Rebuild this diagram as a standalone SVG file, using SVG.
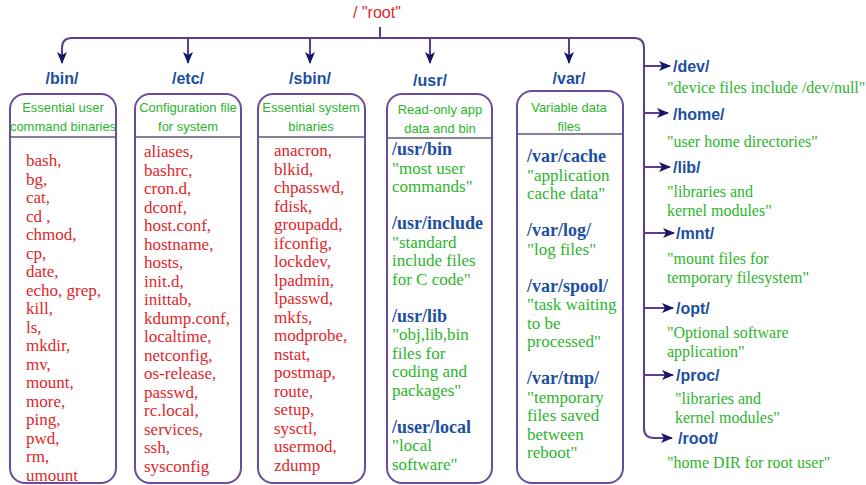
<svg xmlns="http://www.w3.org/2000/svg" width="866" height="485" viewBox="0 0 866 485">
<defs>
<marker id="ah" markerUnits="userSpaceOnUse" markerWidth="12" markerHeight="12" viewBox="0 0 12 10" refX="11" refY="5" orient="auto">
<path d="M0,0 L12,5 L0,10 L3,5 z" fill="#16166a"/>
</marker>
<style>
.ln{fill:none;stroke:#5a3d8e;stroke-width:2}
.box{fill:#fff;stroke:#6a4b9e;stroke-width:2}
.sep{stroke:#5f5878;stroke-width:1.6}
.lbl{font-family:"Liberation Sans",Arial,sans-serif;font-size:16px;font-weight:bold;fill:#1d4f9f}
.hd{font-family:"Liberation Sans",Arial,sans-serif;font-size:13px;fill:#2cb52c;text-anchor:middle}
.red{font-family:"Liberation Serif","Times New Roman",serif;font-size:17px;fill:#e0262a}
.bl{font-family:"Liberation Serif","Times New Roman",serif;font-size:18px;font-weight:bold;fill:#1d4f9f}
.gr{font-family:"Liberation Serif","Times New Roman",serif;font-size:17px;fill:#2cb52c}
.gs{font-family:"Liberation Serif","Times New Roman",serif;font-size:16px;fill:#2cb52c}
</style>
</defs>
<rect width="866" height="485" fill="#fff"/>
<g id="root"><text x="353" y="18" font-family="Liberation Sans,Arial,sans-serif" font-size="16" fill="#e0262a">/ "root"</text></g>
<g id="connectors">
<path class="ln" d="M380 27 V38"/>
<path class="ln" d="M72 38 H634 Q644 38 644 48 V428 Q644 438 654 438 H672" marker-end="url(#ah)"/>
<path class="ln" d="M72 38 Q62 38 62 48 V63" marker-end="url(#ah)"/>
<path class="ln" d="M188 38 V63" marker-end="url(#ah)"/>
<path class="ln" d="M310 38 V63" marker-end="url(#ah)"/>
<path class="ln" d="M430 38 V63" marker-end="url(#ah)"/>
<path class="ln" d="M569 38 V63" marker-end="url(#ah)"/>
<path class="ln" d="M644 66 H670" marker-end="url(#ah)"/>
<path class="ln" d="M644 113 H668" marker-end="url(#ah)"/>
<path class="ln" d="M644 167 H670" marker-end="url(#ah)"/>
<path class="ln" d="M644 233 H674" marker-end="url(#ah)"/>
<path class="ln" d="M644 308 H673" marker-end="url(#ah)"/>
<path class="ln" d="M644 375 H673" marker-end="url(#ah)"/>
</g>
<g id="bin">
<text class="lbl" x="62" y="84" text-anchor="middle">/bin/</text>
<rect class="box" x="10" y="94" width="106" height="389" rx="15"/>
<line class="sep" x1="10" y1="137" x2="116" y2="137"/>
<text class="hd" x="63" y="112">Essential user</text>
<text class="hd" x="63" y="131">command binaries</text>
<text class="red" x="26" y="166"><tspan x="26">bash,</tspan><tspan x="26" dy="18.5">bg,</tspan><tspan x="26" dy="18.5">cat,</tspan><tspan x="26" dy="18.5">cd ,</tspan><tspan x="26" dy="18.5">chmod,</tspan><tspan x="26" dy="18.5">cp,</tspan><tspan x="26" dy="18.5">date,</tspan><tspan x="26" dy="18.5">echo, grep,</tspan><tspan x="26" dy="18.5">kill,</tspan><tspan x="26" dy="18.5">ls,</tspan><tspan x="26" dy="18.5">mkdir,</tspan><tspan x="26" dy="18.5">mv,</tspan><tspan x="26" dy="18.5">mount,</tspan><tspan x="26" dy="18.5">more,</tspan><tspan x="26" dy="18.5">ping,</tspan><tspan x="26" dy="18.5">pwd,</tspan><tspan x="26" dy="18.5">rm,</tspan><tspan x="26" dy="18.5">umount</tspan></text>
</g>
<g id="etc">
<text class="lbl" x="188" y="84" text-anchor="middle">/etc/</text>
<rect class="box" x="135" y="94" width="106" height="389" rx="15"/>
<line class="sep" x1="135" y1="137" x2="241" y2="137"/>
<text class="hd" x="188" y="112">Configuration file</text>
<text class="hd" x="188" y="131">for system</text>
<text class="red" x="144" y="157"><tspan x="144">aliases,</tspan><tspan x="144" dy="18.5">bashrc,</tspan><tspan x="144" dy="18.5">cron.d,</tspan><tspan x="144" dy="18.5">dconf,</tspan><tspan x="144" dy="18.5">host.conf,</tspan><tspan x="144" dy="18.5">hostname,</tspan><tspan x="144" dy="18.5">hosts,</tspan><tspan x="144" dy="18.5">init.d,</tspan><tspan x="144" dy="18.5">inittab,</tspan><tspan x="144" dy="18.5">kdump.conf,</tspan><tspan x="144" dy="18.5">localtime,</tspan><tspan x="144" dy="18.5">netconfig,</tspan><tspan x="144" dy="18.5">os-release,</tspan><tspan x="144" dy="18.5">passwd,</tspan><tspan x="144" dy="18.5">rc.local,</tspan><tspan x="144" dy="18.5">services,</tspan><tspan x="144" dy="18.5">ssh,</tspan><tspan x="144" dy="18.5">sysconfig</tspan></text>
</g>
<g id="sbin">
<text class="lbl" x="310" y="84" text-anchor="middle">/sbin/</text>
<rect class="box" x="258" y="94" width="107" height="389" rx="15"/>
<line class="sep" x1="258" y1="137" x2="365" y2="137"/>
<text class="hd" x="311" y="112">Essential system</text>
<text class="hd" x="311" y="131">binaries</text>
<text class="red" x="274" y="156"><tspan x="274">anacron,</tspan><tspan x="274" dy="18.5">blkid,</tspan><tspan x="274" dy="18.5">chpasswd,</tspan><tspan x="274" dy="18.5">fdisk,</tspan><tspan x="274" dy="18.5">groupadd,</tspan><tspan x="274" dy="18.5">ifconfig,</tspan><tspan x="274" dy="18.5">lockdev,</tspan><tspan x="274" dy="18.5">lpadmin,</tspan><tspan x="274" dy="18.5">lpasswd,</tspan><tspan x="274" dy="18.5">mkfs,</tspan><tspan x="274" dy="18.5">modprobe,</tspan><tspan x="274" dy="18.5">nstat,</tspan><tspan x="274" dy="18.5">postmap,</tspan><tspan x="274" dy="18.5">route,</tspan><tspan x="274" dy="18.5">setup,</tspan><tspan x="274" dy="18.5">sysctl,</tspan><tspan x="274" dy="18.5">usermod,</tspan><tspan x="274" dy="18.5">zdump</tspan></text>
</g>
<g id="usr">
<text class="lbl" x="430" y="86" text-anchor="middle">/usr/</text>
<rect class="box" x="387" y="94" width="105" height="389" rx="15"/>
<line class="sep" x1="387" y1="138" x2="492" y2="138"/>
<text class="hd" x="440" y="114">Read-only app</text>
<text class="hd" x="440" y="133">data and bin</text>
<text class="bl" x="392" y="155">/usr/bin</text>
<text class="gr" x="392" y="173.5"><tspan x="392">"most user</tspan><tspan x="392" dy="18.5">commands"</tspan></text>
<text class="bl" x="392" y="229">/usr/include</text>
<text class="gr" x="392" y="247.5"><tspan x="392">"standard</tspan><tspan x="392" dy="18.5">include files</tspan><tspan x="392" dy="18.5">for C code"</tspan></text>
<text class="bl" x="392" y="321.5">/usr/lib</text>
<text class="gr" x="392" y="340"><tspan x="392">"obj,lib,bin</tspan><tspan x="392" dy="18.5">files for</tspan><tspan x="392" dy="18.5">coding and</tspan><tspan x="392" dy="18.5">packages"</tspan></text>
<text class="bl" x="392" y="432.5">/user/local</text>
<text class="gr" x="392" y="451"><tspan x="392">"local</tspan><tspan x="392" dy="18.5">software"</tspan></text>
</g>
<g id="var">
<text class="lbl" x="569" y="84" text-anchor="middle">/var/</text>
<rect class="box" x="517" y="91" width="106" height="392" rx="15"/>
<line class="sep" x1="517" y1="134" x2="623" y2="134"/>
<text class="hd" x="569" y="112">Variable data</text>
<text class="hd" x="569" y="131">files</text>
<text class="bl" x="527" y="162">/var/cache</text>
<text class="gr" x="527" y="180.5"><tspan x="527">"application</tspan><tspan x="527" dy="18.5">cache data"</tspan></text>
<text class="bl" x="527" y="236">/var/log/</text>
<text class="gr" x="527" y="254.5">"log files"</text>
<text class="bl" x="527" y="291.5">/var/spool/</text>
<text class="gr" x="527" y="310"><tspan x="527">"task waiting</tspan><tspan x="527" dy="18.5">to be</tspan><tspan x="527" dy="18.5">processed"</tspan></text>
<text class="bl" x="527" y="384">/var/tmp/</text>
<text class="gr" x="527" y="402.5"><tspan x="527">"temporary</tspan><tspan x="527" dy="18.5">files saved</tspan><tspan x="527" dy="18.5">between</tspan><tspan x="527" dy="18.5">reboot"</tspan></text>
</g>
<g id="dev"><text class="lbl" x="673" y="72">/dev/</text><text class="gs" x="667" y="93">"device files include /dev/null"</text></g>
<g id="home"><text class="lbl" x="673" y="120">/home/</text><text class="gs" x="667" y="147">"user home directories"</text></g>
<g id="lib"><text class="lbl" x="673" y="173">/lib/</text><text class="gs" x="667" y="197"><tspan x="667">"libraries and</tspan><tspan x="667" dy="19">kernel modules"</tspan></text></g>
<g id="mnt"><text class="lbl" x="676" y="239">/mnt/</text><text class="gs" x="667" y="264"><tspan x="667">"mount files for</tspan><tspan x="667" dy="18.5">temporary filesystem"</tspan></text></g>
<g id="opt"><text class="lbl" x="676" y="314">/opt/</text><text class="gs" x="667" y="338"><tspan x="667">"Optional software</tspan><tspan x="667" dy="19">application"</tspan></text></g>
<g id="proc"><text class="lbl" x="676" y="381">/proc/</text><text class="gs" x="675" y="404"><tspan x="675">"libraries and</tspan><tspan x="675" dy="18.5">kernel modules"</tspan></text></g>
<g id="rootdir"><text class="lbl" x="678" y="444">/root/</text><text class="gs" x="667" y="468">"home DIR for root user"</text></g>
</svg>
